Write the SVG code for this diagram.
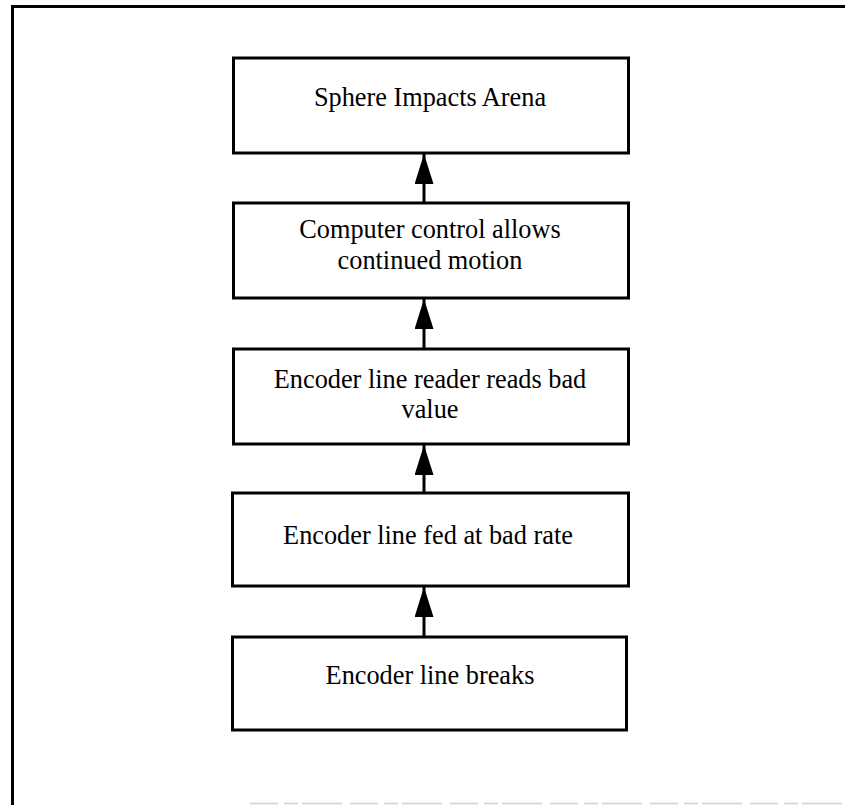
<svg xmlns="http://www.w3.org/2000/svg" width="845" height="805" viewBox="0 0 845 805">
  <style>
    .box { fill: #ffffff; stroke: #000000; stroke-width: 3; }
    .label { font-family: "Liberation Serif", "Times New Roman", serif; font-size: 26.3px; fill: #000000; text-anchor: middle; }
    .shaft { stroke: #000000; stroke-width: 3; fill: none; }
    .frame { stroke: #000000; stroke-width: 3; fill: none; }
  </style>
  <defs>
    <!-- solid triangular head, tip at the end of the line -->
    <marker id="arrowhead" viewBox="0 0 30 19" refX="30" refY="9.5" markerWidth="30" markerHeight="19" markerUnits="userSpaceOnUse" orient="auto">
      <path d="M30,9.5 L0,0 L0,19 Z" fill="#000000"/>
    </marker>
  </defs>

  <rect width="845" height="805" fill="#ffffff"/>

  <!-- page frame -->
  <g id="frame">
    <path class="frame" d="M12.5,805 L12.5,6.5 L845,6.5"/>
    <line x1="250" y1="803.5" x2="845" y2="803.5" stroke="#d0d0d0" stroke-width="1.5" stroke-dasharray="28 6 14 4 40 8"/>
  </g>

  <!-- connectors -->
  <g id="connectors">
    <line class="shaft" x1="424" y1="202" x2="424" y2="154" marker-end="url(#arrowhead)"/>
    <line class="shaft" x1="424" y1="348" x2="424" y2="299" marker-end="url(#arrowhead)"/>
    <line class="shaft" x1="424" y1="492" x2="424" y2="445" marker-end="url(#arrowhead)"/>
    <line class="shaft" x1="424" y1="636" x2="424" y2="587" marker-end="url(#arrowhead)"/>
  </g>

  <g id="node-sphere-impacts">
    <rect class="box" x="233.5" y="58" width="395" height="95"/>
    <text class="label" x="430" y="106">Sphere Impacts Arena</text>
  </g>

  <g id="node-computer-control">
    <rect class="box" x="233.5" y="203" width="395" height="95"/>
    <text class="label" x="430" y="238">Computer control allows</text>
    <text class="label" x="430" y="269">continued motion</text>
  </g>

  <g id="node-reader-bad-value">
    <rect class="box" x="233.5" y="349" width="395" height="95"/>
    <text class="label" x="430" y="388">Encoder line reader reads bad</text>
    <text class="label" x="430" y="418">value</text>
  </g>

  <g id="node-fed-bad-rate">
    <rect class="box" x="232.5" y="493" width="396" height="93"/>
    <text class="label" x="428" y="544">Encoder line fed at bad rate</text>
  </g>

  <g id="node-line-breaks">
    <rect class="box" x="232.5" y="637" width="394" height="93"/>
    <text class="label" x="430" y="684">Encoder line breaks</text>
  </g>
</svg>
